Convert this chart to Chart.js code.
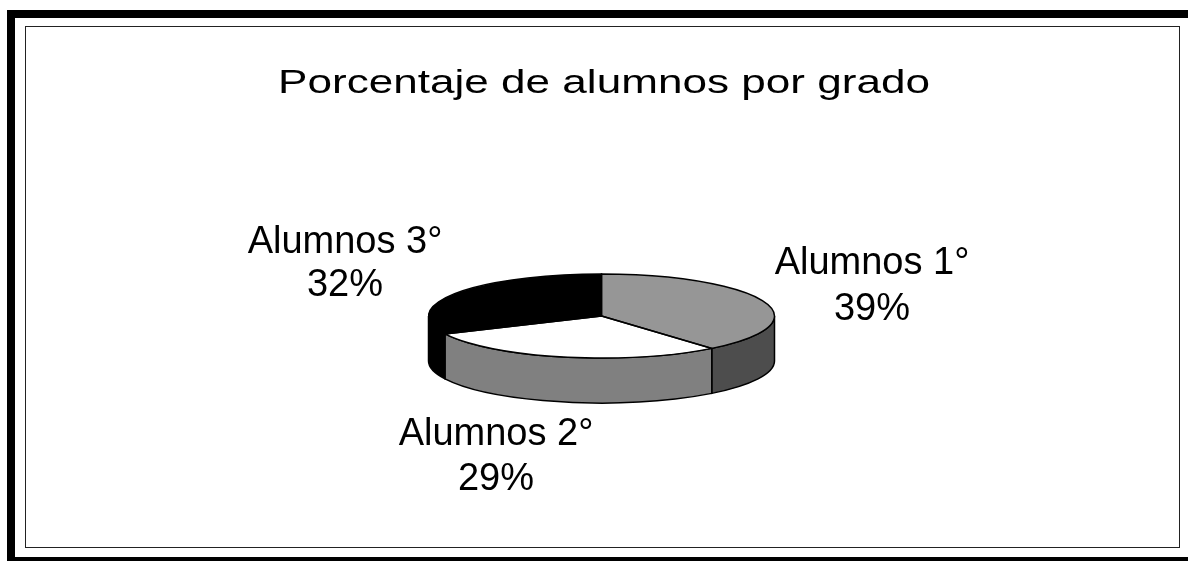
<!DOCTYPE html>
<html><head><meta charset="utf-8">
<style>html,body{margin:0;padding:0;background:#fff}canvas{display:block}</style>
<script src="https://cdn.jsdelivr.net/npm/chart.js@4"></script>
</head><body><canvas id="c" width="1188" height="561"></canvas>
<script>
const titleText = 'Porcentaje de alumnos por grado';
const categories = ['Alumnos 1°', 'Alumnos 2°', 'Alumnos 3°'];
const percentages = [39, 29, 32];
const topColors = ['#969696', '#ffffff', '#000000'];
const sideColors = ['#4d4d4d', '#808080', '#000000'];

const TILT = 42 / 173, DEPTH = 45;
const LABEL_POS = [[872, 274, 320], [496, 445, 490], [345, 253, 296]];

function stretched(ctx, text, cx, y, size, sx) {
  ctx.save();
  ctx.font = size + 'px "Liberation Sans", Arial, sans-serif';
  ctx.fillStyle = '#000';
  ctx.textAlign = 'center';
  ctx.textBaseline = 'alphabetic';
  ctx.translate(cx, y);
  ctx.scale(sx, 1);
  ctx.fillText(text, 0, 0);
  ctx.restore();
}

const pie3d = {
  id: 'pie3d',
  beforeDraw(chart) {
    const ctx = chart.ctx;
    ctx.save();
    ctx.fillStyle = '#fff';
    ctx.fillRect(0, 0, 1188, 561);
    ctx.fillStyle = '#000';
    ctx.fillRect(7, 10, 1181, 8);
    ctx.fillRect(7, 10, 8, 551);
    ctx.fillRect(7, 557, 1181, 4);
    ctx.strokeStyle = '#222';
    ctx.lineWidth = 1;
    ctx.strokeRect(25.5, 26.5, 1154, 521);
    ctx.restore();
  },
  beforeDatasetsDraw(chart) {
    const ctx = chart.ctx, arcs = chart.getDatasetMeta(0).data;
    ctx.save();
    ctx.lineWidth = 1.5;
    ctx.strokeStyle = '#000';
    arcs.forEach((a, i) => {
      const s = Math.max(a.startAngle, 0), e = Math.min(a.endAngle, Math.PI);
      if (e <= s) return;
      const rx = a.outerRadius, ry = rx * TILT;
      ctx.beginPath();
      ctx.ellipse(a.x, a.y, rx, ry, 0, s, e);
      ctx.ellipse(a.x, a.y + DEPTH, rx, ry, 0, e, s, true);
      ctx.closePath();
      ctx.fillStyle = sideColors[i];
      ctx.fill();
      ctx.stroke();
    });
    const a0 = arcs[0];
    ctx.translate(a0.x, a0.y);
    ctx.scale(1, TILT);
    ctx.translate(-a0.x, -a0.y);
  },
  afterDatasetsDraw(chart) {
    const ctx = chart.ctx, arcs = chart.getDatasetMeta(0).data;
    ctx.restore();
    ctx.save();
    ctx.lineWidth = 1.5;
    ctx.strokeStyle = '#000';
    arcs.forEach(a => {
      const rx = a.outerRadius, ry = rx * TILT;
      ctx.beginPath();
      ctx.moveTo(a.x, a.y);
      ctx.ellipse(a.x, a.y, rx, ry, 0, a.startAngle, a.endAngle);
      ctx.closePath();
      ctx.stroke();
    });
    ctx.restore();
  },
  afterDraw(chart) {
    const ctx = chart.ctx;
    stretched(ctx, titleText, 604, 93, 33, 1.336);
    categories.forEach((c, i) => {
      const [x, y1, y2] = LABEL_POS[i];
      stretched(ctx, c, x, y1, 38, 1);
      stretched(ctx, percentages[i] + '%', x, y2, 38, 1);
    });
  }
};

new Chart(document.getElementById('c'), {
  type: 'pie',
  data: {
    labels: categories,
    datasets: [{ data: percentages, backgroundColor: topColors, borderWidth: 0, clip: false }]
  },
  options: {
    responsive: false,
    animation: false,
    radius: 173,
    layout: { padding: { left: 15, right: 0, top: 71, bottom: 0 } },
    plugins: { legend: { display: false }, tooltip: { enabled: false }, title: { display: false } }
  },
  plugins: [pie3d]
});
</script></body></html>
